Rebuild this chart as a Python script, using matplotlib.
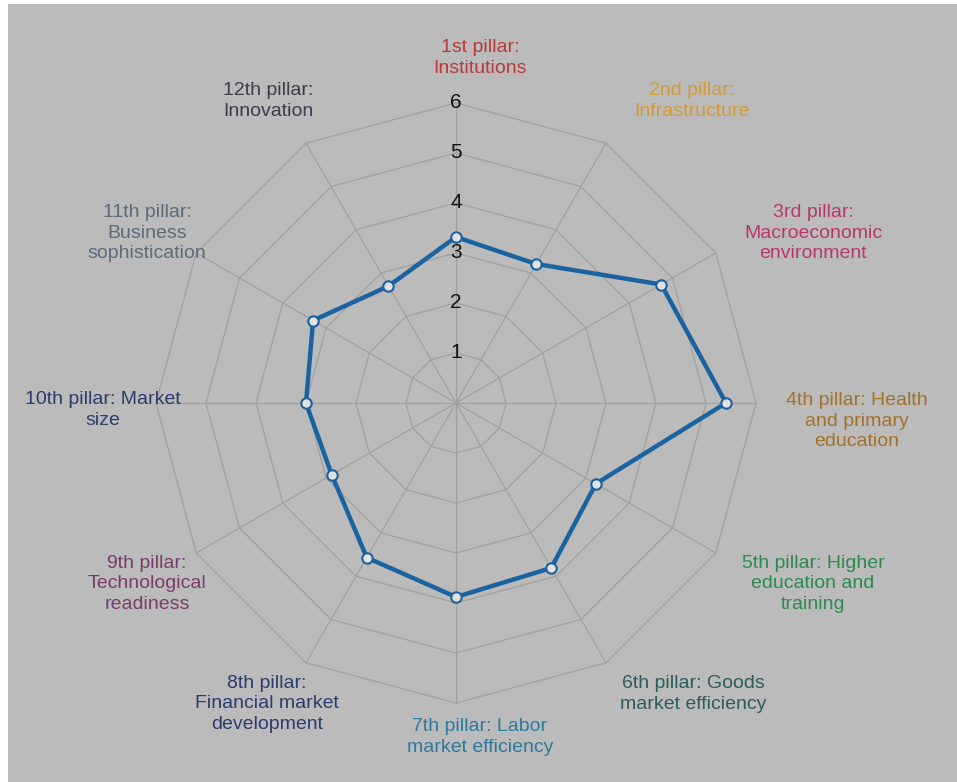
import numpy as np
import matplotlib.pyplot as plt

# data
pillars = ['1st pillar:\nInstitutions', '2nd pillar:\nInfrastructure',
           '3rd pillar:\nMacroeconomic\nenvironment', '4th pillar: Health\nand primary\neducation',
           '5th pillar: Higher\neducation and\ntraining', '6th pillar: Goods\nmarket efficiency',
           '7th pillar: Labor\nmarket efficiency', '8th pillar:\nFinancial market\ndevelopment',
           '9th pillar:\nTechnological\nreadiness', '10th pillar: Market\nsize',
           '11th pillar:\nBusiness\nsophistication', '12th pillar:\nInnovation']
scores = [3.32, 3.21, 4.74, 5.4, 3.23, 3.81, 3.88, 3.57, 2.87, 3.0, 3.3, 2.7]
label_colors = ['#b93a3a', '#d29a36', '#b8386c', '#a2722c', '#2d8a4e', '#2c5c5c',
                '#2c7a9c', '#2c3c6c', '#7a3c6c', '#2c3c6c', '#5c6a7a', '#3c3c4c']
rings = [1, 2, 3, 4, 5, 6]

W, H = 957, 782
cx, cy, rad = 456, 403, 300   # centre and outer radius in pixels

# label centres in pixels (layout)
label_xy = [(480, 58), (692, 101), (813, 233), (857, 421), (813, 584), (693, 694),
            (480, 737), (267, 704), (147, 584), (103, 410), (147, 233), (268, 101)]

fig = plt.figure(figsize=(W / 100, H / 100), dpi=100)
fig.patch.set_facecolor('white')
fig.patches.append(plt.Rectangle((8 / W, 0), 1, 1 - 4 / H, transform=fig.transFigure,
                                 facecolor='#bbbbbb', edgecolor='none', zorder=-5))

ax = fig.add_axes([(cx - rad) / W, (H - cy - rad) / H, 2 * rad / W, 2 * rad / H], projection='polar')
ax.set_zorder(2)
ax.set_theta_zero_location('N')
ax.set_theta_direction(-1)
ax.set_ylim(0, 6)
ax.patch.set_visible(False)
ax.spines['polar'].set_visible(False)
ax.grid(False)
ax.set_xticks([])
ax.set_yticks([])

n = len(pillars)
theta = np.arange(n) * 2 * np.pi / n
theta_c = np.append(theta, theta[0])

# polygon grid
for r in rings:
    ax.plot(theta_c, [r] * (n + 1), color='#a0a0a0', lw=0.9, zorder=1, clip_on=False)
for t in theta:
    ax.plot([t, t], [0, rings[-1]], color='#a0a0a0', lw=0.9, zorder=1, clip_on=False)

# ring labels
for r in rings:
    ax.text(0, r, str(r), ha='center', va='center', fontsize=15, color='#111111',
            family='Liberation Sans', zorder=2)

# series
vals = np.append(scores, scores[0])
ax.plot(theta_c, vals, color='#1b62a0', lw=3.2, zorder=3, clip_on=False)
ax.plot(theta, scores, 'o', ms=7.5, mfc='#e2e2e2', mec='#1b62a0', mew=1.5, zorder=4, clip_on=False)

# axis labels
for lab, (x, y), c in zip(pillars, label_xy, label_colors):
    fig.text(x / W, 1 - y / H, lab, ha='center', va='center', multialignment='center',
             fontsize=14, color=c, family='Liberation Sans', linespacing=1.3)

fig.savefig('out.png', dpi=100, facecolor=fig.get_facecolor())
